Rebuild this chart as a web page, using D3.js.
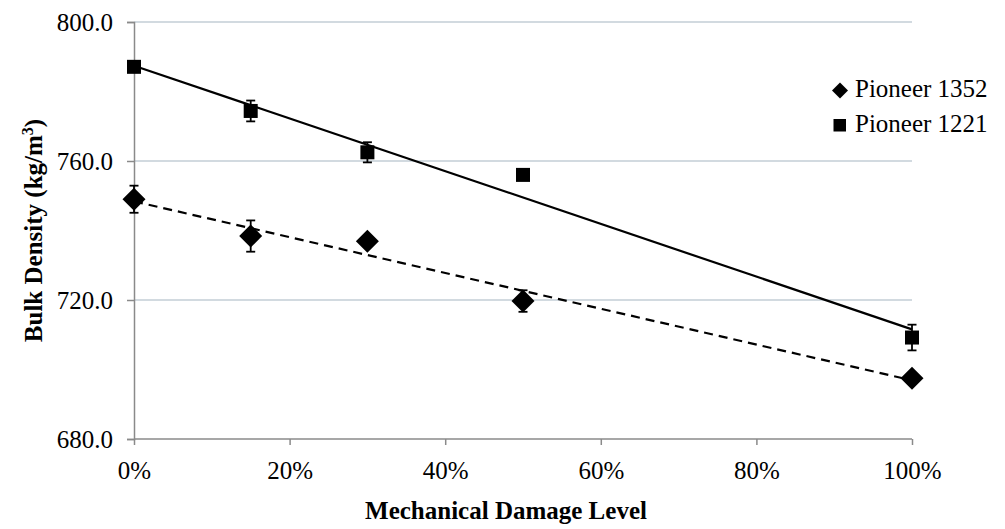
<!DOCTYPE html>
<html>
<head>
<meta charset="utf-8">
<script src="https://cdn.jsdelivr.net/npm/d3@7"></script>
<style>
  html, body { margin: 0; padding: 0; background: #fff; }
</style>
</head>
<body>
<svg id="chart" width="1005" height="529"></svg>
<script>
// damage levels (fraction) and measured bulk density
const damage = [0, 0.15, 0.30, 0.50, 1.00];
const p1352 = [749.0, 738.4, 736.9, 719.7, 697.5];
const p1352Err = [3.9, 4.5, 1.0, 3.1, 1.0];
const p1221 = [787.1, 774.4, 762.5, 756.0, 709.2];
const p1221Err = [1.0, 3.0, 2.9, 0.8, 3.7];
const yTicks = [680, 720, 760, 800];
const xTicks = [0, 0.2, 0.4, 0.6, 0.8, 1.0];

const FONT = '"Liberation Serif", "Times New Roman", "DejaVu Serif", serif';

const svg = d3.select('#chart');
const margin = { left: 134, right: 93, top: 22, bottom: 90 };
const width = 1005, height = 529;

const x = d3.scaleLinear().domain([0, 1]).range([margin.left, width - margin.right]);
const y = d3.scaleLinear().domain([680, 800]).range([height - margin.bottom, margin.top]);

// horizontal gridlines
svg.append('g')
  .selectAll('line')
  .data(yTicks.filter(d => d > 680))
  .enter()
  .append('line')
  .attr('x1', x(0)).attr('x2', x(1))
  .attr('y1', d => y(d)).attr('y2', d => y(d))
  .attr('stroke', '#c3ced6')
  .attr('stroke-width', 1.5);

// axes
const yAxis = svg.append('g')
  .attr('transform', `translate(${x(0)},0)`)
  .call(d3.axisLeft(y).tickValues(yTicks).tickFormat(d3.format('.1f')).tickSize(7).tickPadding(14));
const xAxis = svg.append('g')
  .attr('transform', `translate(0,${y(680)})`)
  .call(d3.axisBottom(x).tickValues(xTicks).tickFormat(d3.format('.0%')).tickSize(6).tickPadding(16));

[yAxis, xAxis].forEach(a => {
  a.attr('font-family', null).attr('font-size', null);
  a.select('.domain').attr('stroke', '#8a8a8a').attr('stroke-width', 1.5);
  a.selectAll('.tick line').attr('stroke', '#8a8a8a').attr('stroke-width', 1.5);
  a.selectAll('text')
    .style('font-family', FONT)
    .style('font-size', '25px')
    .attr('fill', '#000');
});
xAxis.select('.domain').attr('d', `M${x(0)},0H${x(1)}`);

// linear trendlines
function fit(xs, ys) {
  const mx = d3.mean(xs), my = d3.mean(ys);
  const sxy = d3.sum(xs, (v, i) => (v - mx) * (ys[i] - my));
  const sxx = d3.sum(xs, v => (v - mx) * (v - mx));
  const b = sxy / sxx;
  return t => my + b * (t - mx);
}
const f1221 = fit(damage, p1221);
const f1352 = fit(damage, p1352);

svg.append('line')
  .attr('x1', x(0)).attr('y1', y(f1221(0)))
  .attr('x2', x(1)).attr('y2', y(f1221(1)))
  .attr('stroke', '#000').attr('stroke-width', 2.2);
svg.append('line')
  .attr('x1', x(0)).attr('y1', y(f1352(0)))
  .attr('x2', x(1)).attr('y2', y(f1352(1)))
  .attr('stroke', '#000').attr('stroke-width', 2.2)
  .attr('stroke-dasharray', '9,6');

// error bars
function errorBars(vals, errs) {
  const g = svg.append('g');
  damage.forEach((d, i) => {
    const cx = x(d), top = y(vals[i] + errs[i]), bot = y(vals[i] - errs[i]);
    g.append('line').attr('x1', cx).attr('x2', cx).attr('y1', top).attr('y2', bot)
      .attr('stroke', '#000').attr('stroke-width', 1.8);
    [top, bot].forEach(yy => g.append('line')
      .attr('x1', cx - 4.5).attr('x2', cx + 4.5).attr('y1', yy).attr('y2', yy)
      .attr('stroke', '#000').attr('stroke-width', 1.8));
  });
}
errorBars(p1352, p1352Err);
errorBars(p1221, p1221Err);

// markers
svg.append('g').selectAll('path')
  .data(damage)
  .enter()
  .append('path')
  .attr('transform', (d, i) => `translate(${x(d)},${y(p1352[i])})`)
  .attr('d', 'M0,-11.5L11.5,0L0,11.5L-11.5,0Z')
  .attr('fill', '#000');
svg.append('g').selectAll('rect')
  .data(damage)
  .enter()
  .append('rect')
  .attr('x', d => x(d) - 7).attr('y', (d, i) => y(p1221[i]) - 7)
  .attr('width', 14).attr('height', 14)
  .attr('fill', '#000');

// legend
const legend = svg.append('g').attr('transform', 'translate(840,0)');
legend.append('path').attr('d', 'M0,82.5L8,90.5L0,98.5L-8,90.5Z').attr('fill', '#000');
legend.append('text').attr('x', 15).attr('y', 97).text('Pioneer 1352');
legend.append('rect').attr('x', -6.5).attr('y', 119).attr('width', 12.5).attr('height', 12.5).attr('fill', '#000');
legend.append('text').attr('x', 15).attr('y', 132).text('Pioneer 1221');
legend.selectAll('text').style('font-family', FONT).style('font-size', '25px').attr('fill', '#000');

// axis titles
svg.append('text')
  .attr('x', 506).attr('y', 519)
  .attr('text-anchor', 'middle')
  .style('font-family', FONT).style('font-size', '25px').style('font-weight', 'bold')
  .text('Mechanical Damage Level');

const yt = svg.append('text')
  .attr('transform', `translate(42,${(y(680) + y(800)) / 2}) rotate(-90)`)
  .attr('text-anchor', 'middle')
  .style('font-family', FONT).style('font-size', '25px').style('font-weight', 'bold');
yt.append('tspan').text('Bulk Density (kg/m');
yt.append('tspan').style('font-size', '16px').attr('dy', -9).text('3');
yt.append('tspan').attr('dy', 9).text(')');
</script>
</body>
</html>
